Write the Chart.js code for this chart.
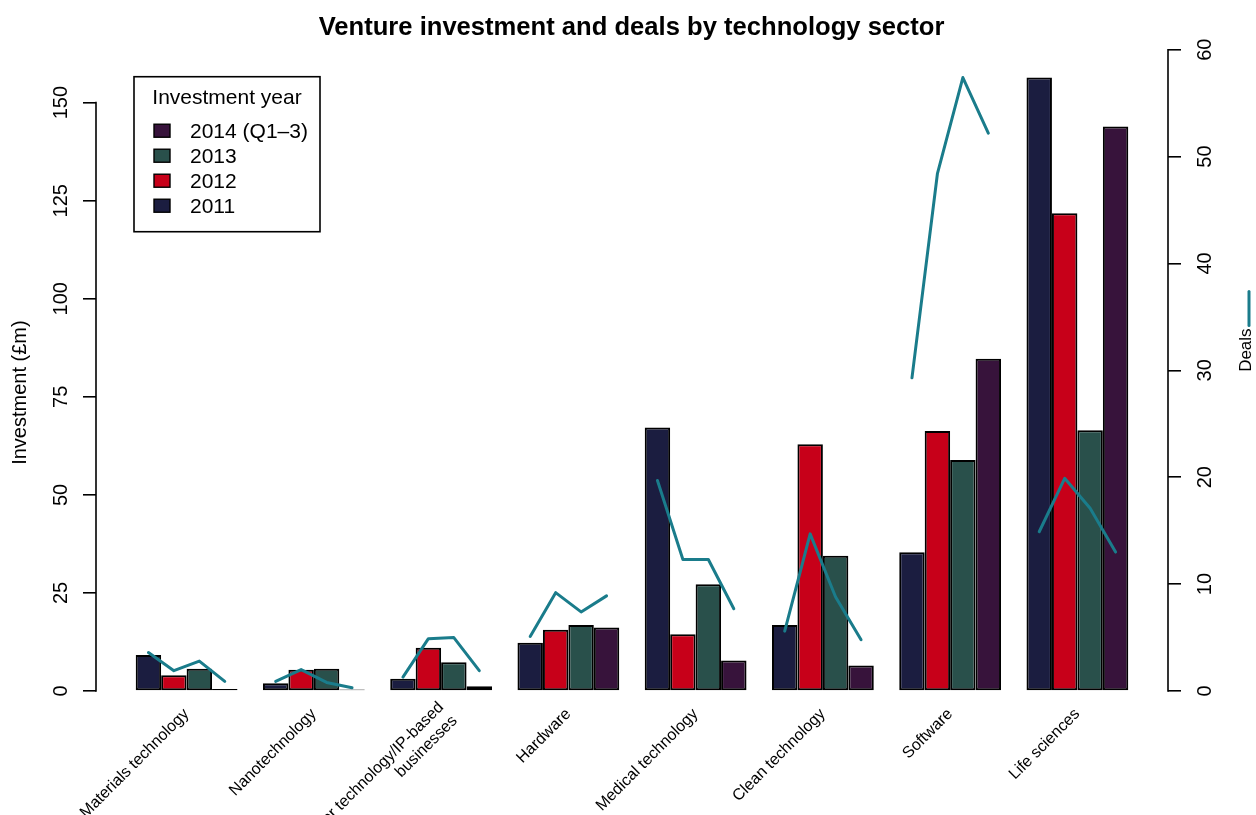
<!DOCTYPE html>
<html>
<head>
<meta charset="utf-8">
<script src="https://cdn.jsdelivr.net/npm/chart.js@4.4.1/dist/chart.umd.min.js"></script>
<style>
html,body{margin:0;padding:0;background:#fff;overflow:hidden}
#wrap{width:1256px;height:815px;position:relative}
</style>
</head>
<body>
<div id="wrap"><canvas id="c" width="1256" height="815"></canvas></div>
<script>
// ---------------- data ----------------
const categories = [
  "Materials technology",
  "Nanotechnology",
  ["Other technology/IP-based", "businesses"],
  "Hardware",
  "Medical technology",
  "Clean technology",
  "Software",
  "Life sciences"
];
const years = ["2011", "2012", "2013", "2014 (Q1\u20133)"];

// Investment (£m)
const inv2011 = [9.2, 2.0, 3.1, 12.3, 67.2, 16.8, 35.4, 156.4];
const inv2012 = [4.0, 5.4, 11.0, 15.6, 14.5, 62.9, 66.3, 121.8];
const inv2013 = [5.7, 5.7, 7.3, 16.8, 27.2, 34.5, 58.9, 66.5];
const inv2014 = [0.5, 0.4, 1.2, 16.2, 7.8, 6.5, 84.7, 143.9];

// Deals (right axis)
const deals2011 = [3.6, 0.9, 1.3, 5.1, 19.7, 5.6, 29.3, 14.9];
const deals2012 = [1.9, 2.0, 4.9, 9.2, 12.3, 14.7, 48.4, 19.9];
const deals2013 = [2.8, 0.8, 5.0, 7.4, 12.3, 8.8, 57.4, 17.1];
const deals2014 = [0.9, 0.3, 1.9, 8.9, 7.7, 4.8, 52.2, 13.0];

const investmentTicks = [0, 25, 50, 75, 100, 125, 150];
const dealTicks = [0, 10, 20, 30, 40, 50, 60];

// ---------------- styling ----------------
const FONT = "'Liberation Sans', Arial, Helvetica, sans-serif";
const yearColors = ["#1b1d40", "#c70019", "#29504b", "#37133b"];
const dealColor = "#1a7c8b";

const invSeries = [inv2011, inv2012, inv2013, inv2014];
const dealSeries = [deals2011, deals2012, deals2013, deals2014];
const nYears = years.length;
const groupFrac = 0.8;               // bars take 4/5 of each slot
const barFrac = groupFrac / nYears;  // one bar in x units

const barDatasets = invSeries.map((arr, k) => ({
  type: 'bar',
  label: years[k],
  data: arr.map((v, i) => ({ x: i, y: v })),
  backgroundColor: yearColors[k],
  borderColor: '#000',
  borderWidth: 2,
  borderSkipped: false,
  inflateAmount: 0,
  categoryPercentage: groupFrac,
  barPercentage: 1.0,
  yAxisID: 'y',
  xAxisID: 'x',
  order: 1
}));

const dealPoints = [];
categories.forEach((c, i) => {
  dealSeries.forEach((arr, k) => {
    dealPoints.push({ x: i + (k - (nYears - 1) / 2) * barFrac, y: arr[i] });
  });
  dealPoints.push({ x: i + 0.5, y: null });
});

const lineDataset = {
  type: 'line',
  label: 'Deals',
  data: dealPoints,
  borderColor: dealColor,
  backgroundColor: dealColor,
  borderWidth: 3,
  pointRadius: 0,
  pointHoverRadius: 0,
  tension: 0,
  fill: false,
  spanGaps: false,
  borderCapStyle: 'round',
  borderJoinStyle: 'round',
  yAxisID: 'y1',
  xAxisID: 'x',
  order: 0
};

// ---------------- plugins ----------------
const axisLinePlugin = {
  id: 'axisLines',
  afterDraw(chart) {
    const ctx = chart.ctx;
    ctx.save();
    ctx.strokeStyle = '#000';
    ctx.lineWidth = 1.6;
    ['y', 'y1'].forEach(id => {
      const s = chart.scales[id];
      const x = s.position === 'left' ? s.right : s.left;
      const t = s.ticks;
      const ya = s.getPixelForValue(t[0].value);
      const yb = s.getPixelForValue(t[t.length - 1].value);
      ctx.beginPath();
      ctx.moveTo(x, ya + 0.8);
      ctx.lineTo(x, yb - 0.8);
      ctx.stroke();
    });
    ctx.restore();
  }
};

const legendBoxPlugin = {
  id: 'legendBox',
  afterDraw(chart) {
    const ca = chart.chartArea;
    const ctx = chart.ctx;
    const bx = ca.left + 38, by = ca.top + 27, bw = 186, bh = 155;
    ctx.save();
    ctx.fillStyle = '#fff';
    ctx.fillRect(bx, by, bw, bh);
    ctx.strokeStyle = '#000';
    ctx.lineWidth = 1.6;
    ctx.strokeRect(bx, by, bw, bh);
    ctx.fillStyle = '#000';
    ctx.font = '21px ' + FONT;
    ctx.textBaseline = 'middle';
    ctx.textAlign = 'center';
    ctx.fillText('Investment year', bx + bw / 2, by + 21);
    ctx.textAlign = 'left';
    const bars = chart.data.datasets.filter(d => d.type === 'bar').slice().reverse();
    bars.forEach((d, j) => {
      const cy = by + 54 + j * 25;
      ctx.fillStyle = d.backgroundColor;
      ctx.fillRect(bx + 20, cy - 6.5, 16, 13);
      ctx.strokeStyle = '#000';
      ctx.lineWidth = 1.4;
      ctx.strokeRect(bx + 20, cy - 6.5, 16, 13);
      ctx.fillStyle = '#000';
      ctx.fillText(d.label, bx + 56, cy + 1);
    });
    ctx.restore();
  }
};

const dealsTitlePlugin = {
  id: 'dealsTitle',
  afterDraw(chart) {
    const ca = chart.chartArea;
    const ctx = chart.ctx;
    const x = ca.right + 78;
    const yBottom = (ca.top + ca.bottom) / 2 + 1.5;
    ctx.save();
    ctx.font = '17px ' + FONT;
    const w = ctx.measureText('Deals').width;
    ctx.translate(x, yBottom);
    ctx.rotate(-Math.PI / 2);
    ctx.fillStyle = '#000';
    ctx.textAlign = 'left';
    ctx.textBaseline = 'middle';
    ctx.fillText('Deals', 0, 0);
    ctx.strokeStyle = dealColor;
    ctx.lineWidth = 3;
    ctx.lineCap = 'round';
    ctx.beginPath();
    ctx.moveTo(w + 3, 3);
    ctx.lineTo(w + 37, 3);
    ctx.stroke();
    ctx.restore();
  }
};

// ---------------- chart ----------------
const NBSP = '\u00A0';
new Chart(document.getElementById('c'), {
  type: 'bar',
  data: { datasets: [...barDatasets, lineDataset] },
  plugins: [axisLinePlugin, legendBoxPlugin, dealsTitlePlugin],
  options: {
    responsive: false,
    animation: false,
    devicePixelRatio: 1,
    layout: { padding: 0 },
    plugins: {
      legend: { display: false },
      tooltip: { enabled: false },
      title: {
        display: true,
        text: NBSP + 'Venture investment and deals by technology sector',
        color: '#000',
        font: { family: FONT, size: 25.6, weight: 'bold' },
        padding: { top: 13, bottom: 6 }
      }
    },
    scales: {
      x: {
        type: 'linear',
        bounds: 'data',
        offset: false,
        min: -0.712,
        max: 7.712,
        grid: { display: false, drawTicks: false },
        border: { display: false },
        afterBuildTicks: s => { s.ticks = categories.map((c, i) => ({ value: i })); },
        ticks: {
          autoSkip: false,
          includeBounds: false,
          minRotation: 45,
          maxRotation: 45,
          padding: 7,
          color: '#000',
          // single-line labels get a doubled line height so that their line
          // sits where the middle of a two-line label sits (as in the original)
          font: ctx => {
            const lbl = ctx.tick ? categories[ctx.tick.value] : null;
            const multi = Array.isArray(lbl);
            return { family: FONT, size: 16, lineHeight: multi ? 1.2 : 2.4 };
          },
          callback: v => categories[v]
        },
        afterFit: s => { s.height = 124; }
      },
      y: {
        type: 'linear',
        position: 'left',
        bounds: 'data',
        min: 0,
        max: 163.5,
        afterBuildTicks: s => { s.ticks = investmentTicks.map(v => ({ value: v })); },
        grid: { display: true, drawOnChartArea: false, drawTicks: true, tickLength: 13, color: '#000', lineWidth: 1.6 },
        border: { display: false },
        ticks: {
          includeBounds: false,
          minRotation: 90,
          maxRotation: 90,
          crossAlign: 'center',
          padding: 5,
          color: '#000',
          font: { family: FONT, size: 20 }
        },
        title: {
          display: true,
          text: 'Investment (\u00A3m)' + NBSP.repeat(8),
          color: '#000',
          font: { family: FONT, size: 20 },
          padding: { top: 8, bottom: 0 }
        },
        afterFit: s => { s.width = 96; }
      },
      y1: {
        type: 'linear',
        position: 'right',
        bounds: 'data',
        min: 0,
        max: 60,
        afterBuildTicks: s => { s.ticks = dealTicks.map(v => ({ value: v })); },
        grid: { display: true, drawOnChartArea: false, drawTicks: true, tickLength: 13, color: '#000', lineWidth: 1.6 },
        border: { display: false },
        ticks: {
          includeBounds: false,
          minRotation: 90,
          maxRotation: 90,
          crossAlign: 'center',
          padding: 13,
          color: '#000',
          font: { family: FONT, size: 20 }
        },
        afterFit: s => { s.width = 88; }
      }
    }
  }
});
</script>
</body>
</html>
